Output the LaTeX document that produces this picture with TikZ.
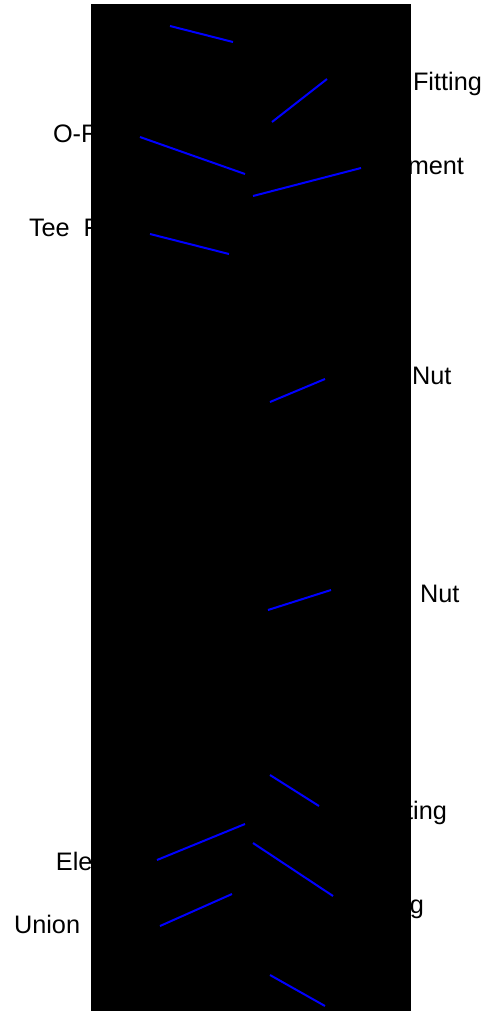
\documentclass[tikz,border=0pt]{standalone}
\usepackage{fontspec}
\setmainfont{Liberation Sans}
\begin{document}
\begin{tikzpicture}[x=1pt,y=-1pt,
  lbl/.style={inner sep=0pt,outer sep=0pt,font=\fontsize{25.3}{30}\selectfont,text=black},
  leader/.style={draw={rgb,255:red,0;green,0;blue,255},line width=2pt},
  cover/.style={fill=black,draw=none}]
\useasboundingbox (0,0) rectangle (483,1013);
\fill[white] (0,0) rectangle (483,1013);
% labels (partly hidden behind the black panel)
\node[lbl,anchor=base west] (l1) at (413,90) {Fitting};
\node[lbl,anchor=base west] (l2) at (53,142) {O-Ring};
\node[lbl,anchor=base east] (l3) at (464,174) {ment};
\node[lbl,anchor=base west] (l4) at (29,236) {Tee\hspace{0.55em}Fitting};
\node[lbl,anchor=base west] (l5) at (412,384) {Nut};
\node[lbl,anchor=base west] (l6) at (420,602) {Nut};
\node[lbl,anchor=base east] (l7) at (447,819) {Fitting};
\node[lbl,anchor=base west] (l8) at (56,870) {Ele};
\node[lbl,anchor=base east] (l9) at (424,913) {Fitting};
\node[lbl,anchor=base west] (l10) at (14,933) {Union};
% black panel
\path[cover] (91,4) rectangle (411,1011);
% leader line ends
\coordinate (a1) at (170,26);  \coordinate (b1) at (233,42);
\coordinate (a2) at (272,122); \coordinate (b2) at (327,79);
\coordinate (a3) at (140,137); \coordinate (b3) at (245,174);
\coordinate (a4) at (253,196); \coordinate (b4) at (361,168);
\coordinate (a5) at (150,234); \coordinate (b5) at (229,254);
\coordinate (a6) at (270,402); \coordinate (b6) at (325,379);
\coordinate (a7) at (268,610); \coordinate (b7) at (331,590);
\coordinate (a8) at (270,775); \coordinate (b8) at (319,806);
\coordinate (a9) at (157,860); \coordinate (b9) at (245,824);
\coordinate (a10) at (253,843); \coordinate (b10) at (333,896);
\coordinate (a11) at (160,926); \coordinate (b11) at (232,894);
\coordinate (a12) at (270,975); \coordinate (b12) at (325,1006);
\foreach \i in {1,...,12} {\draw[leader] (a\i) -- (b\i);}
\end{tikzpicture}
\end{document}
